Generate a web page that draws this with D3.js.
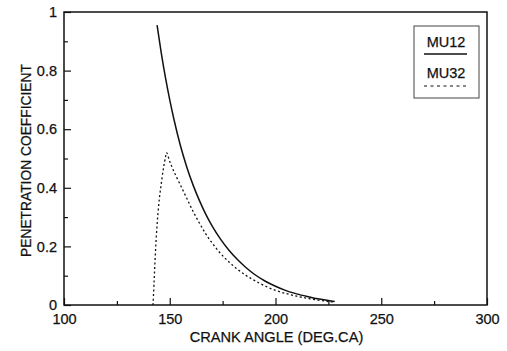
<!DOCTYPE html>
<html>
<head>
<meta charset="utf-8">
<script src="https://cdn.jsdelivr.net/npm/d3@7"></script>
<style>
  html, body { margin: 0; padding: 0; background: #fff; }
  svg { display: block; }
  text { font-family: "Liberation Sans", Arial, Helvetica, sans-serif; fill: #111; stroke: #111; stroke-width: 0.25px; }
</style>
</head>
<body>
<svg id="chart" width="507" height="351"></svg>
<script>
// ---- data ----
const seriesNames = ["MU12", "MU32"];
const mu12Angle = [144, 146, 148, 150, 152, 155, 158, 161, 164, 167, 170, 174, 178, 182, 186, 190, 195, 200, 205, 210, 215, 220, 225, 228];
const mu12Value = [0.955, 0.86, 0.775, 0.70, 0.633, 0.545, 0.472, 0.41, 0.357, 0.31, 0.27, 0.225, 0.187, 0.155, 0.128, 0.105, 0.082, 0.064, 0.049, 0.038, 0.029, 0.021, 0.015, 0.012];
const mu32Angle = [142.1, 142.6, 143.1, 143.7, 144.4, 145.2, 146.1, 147.1, 148.0, 148.5, 150, 152, 155, 158, 161, 164, 167, 170, 174, 178, 182, 186, 190, 195, 200, 205, 210, 215, 220, 225, 228];
const mu32Value = [0, 0.08, 0.16, 0.24, 0.31, 0.37, 0.42, 0.47, 0.505, 0.52, 0.49, 0.455, 0.41, 0.365, 0.32, 0.28, 0.243, 0.212, 0.176, 0.147, 0.122, 0.101, 0.084, 0.065, 0.05, 0.039, 0.03, 0.023, 0.017, 0.012, 0.01];
const xTicks = [100, 150, 200, 250, 300];
const xMinorTicks = [125, 175, 225, 275];
const yTicks = [0, 0.2, 0.4, 0.6, 0.8, 1];
const yMinorTicks = [0.1, 0.3, 0.5, 0.7, 0.9];
const xTitle = "CRANK ANGLE (DEG.CA)";
const yTitle = "PENETRATION COEFFICIENT";

// ---- layout ----
const svg = d3.select("#chart");
const L = 64, R = 487, T = 12, B = 305;
const x = d3.scaleLinear().domain([100, 300]).range([L, R]);
const y = d3.scaleLinear().domain([0, 1]).range([B, T]);

// axes with inward ticks
const gx = svg.append("g").attr("transform", `translate(0,${B})`)
  .call(d3.axisBottom(x).tickValues(xTicks).tickSize(-7).tickPadding(9).tickFormat(d3.format("d")));
const gxm = svg.append("g").attr("transform", `translate(0,${B})`)
  .call(d3.axisBottom(x).tickValues(xMinorTicks).tickSize(-4).tickFormat(""));
const gy = svg.append("g").attr("transform", `translate(${L},0)`)
  .call(d3.axisLeft(y).tickValues(yTicks).tickSize(-7).tickPadding(7).tickFormat(d => d === 0 ? "0" : d === 1 ? "1" : d3.format(".1f")(d)));
const gym = svg.append("g").attr("transform", `translate(${L},0)`)
  .call(d3.axisLeft(y).tickValues(yMinorTicks).tickSize(-4).tickFormat(""));

[gx, gxm, gy, gym].forEach(g => {
  g.select(".domain").remove();
  g.selectAll(".tick line").attr("stroke", "#111").attr("stroke-width", 1.2);
});
[gx, gy].forEach(g => g.selectAll(".tick text")
  .style("font-size", "14.5px").style("font-family", "'Liberation Sans', Arial, sans-serif")
  .attr("fill", "#111").attr("stroke", "#111").attr("stroke-width", 0.25));
gx.selectAll(".tick text").attr("dy", "0.71em");

// frame
svg.append("rect").attr("x", L).attr("y", T).attr("width", R - L).attr("height", B - T)
  .attr("fill", "none").attr("stroke", "#111").attr("stroke-width", 1.5);

// titles
svg.append("text").attr("x", (L + R) / 2 + 1).attr("y", 342).attr("text-anchor", "middle")
  .style("font-size", "14.6px").text(xTitle);
svg.append("text").attr("transform", `translate(31,${(T + B) / 2 + 2}) rotate(-90)`)
  .attr("text-anchor", "middle").style("font-size", "13.8px").text(yTitle);

// curves
const mu12 = mu12Angle.map((a, i) => [a, mu12Value[i]]);
const mu32 = mu32Angle.map((a, i) => [a, mu32Value[i]]);
svg.append("path").datum(mu12)
  .attr("d", d3.line().x(d => x(d[0])).y(d => y(d[1])).curve(d3.curveMonotoneX))
  .attr("fill", "none").attr("stroke", "#111").attr("stroke-width", 1.5);
svg.append("path").datum(mu32)
  .attr("d", d3.line().x(d => x(d[0])).y(d => y(d[1])).curve(d3.curveCatmullRom.alpha(0.5)))
  .attr("fill", "none").attr("stroke", "#111").attr("stroke-width", 1.3).attr("stroke-dasharray", "2,2.5");

// legend
const lg = svg.append("g");
lg.append("rect").attr("x", 414).attr("y", 26).attr("width", 65).attr("height", 72)
  .attr("fill", "#fff").attr("stroke", "#444").attr("stroke-width", 1);
lg.append("text").attr("x", 446).attr("y", 47).attr("text-anchor", "middle")
  .style("font-size", "14.5px").text(seriesNames[0]);
lg.append("line").attr("x1", 424).attr("x2", 467).attr("y1", 54).attr("y2", 54)
  .attr("stroke", "#111").attr("stroke-width", 1.4);
lg.append("text").attr("x", 446).attr("y", 77.5).attr("text-anchor", "middle")
  .style("font-size", "14.5px").text(seriesNames[1]);
lg.append("line").attr("x1", 424).attr("x2", 467).attr("y1", 86).attr("y2", 86)
  .attr("stroke", "#111").attr("stroke-width", 1.2).attr("stroke-dasharray", "3,3.5");
</script>
</body>
</html>
